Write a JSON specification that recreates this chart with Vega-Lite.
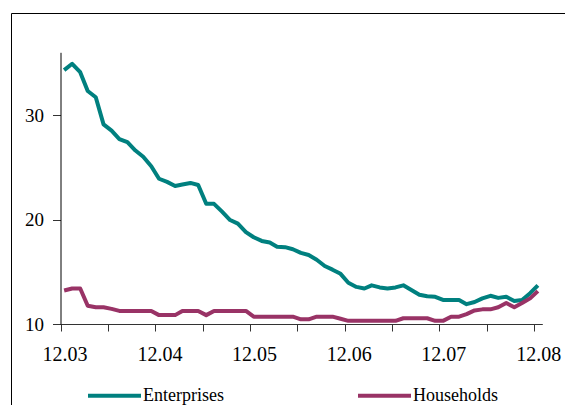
{
  "$schema": "https://vega.github.io/schema/vega-lite/v6.json",
  "autosize": "none",
  "width": 564,
  "height": 402,
  "padding": {"left": 11, "top": 13, "right": -10, "bottom": -10},
  "background": "white",
  "config": {
    "view": {"stroke": "#000", "strokeWidth": 1, "fill": "white"},
    "font": "Liberation Serif"
  },
  "data": {
    "values": [
      {"date": "2003-12-15", "sector": "Enterprises", "rate": 34.3},
      {"date": "2004-01-15", "sector": "Enterprises", "rate": 34.9},
      {"date": "2004-02-15", "sector": "Enterprises", "rate": 34.1},
      {"date": "2004-03-15", "sector": "Enterprises", "rate": 32.3},
      {"date": "2004-04-15", "sector": "Enterprises", "rate": 31.7},
      {"date": "2004-05-15", "sector": "Enterprises", "rate": 29.1},
      {"date": "2004-06-15", "sector": "Enterprises", "rate": 28.5},
      {"date": "2004-07-15", "sector": "Enterprises", "rate": 27.7},
      {"date": "2004-08-15", "sector": "Enterprises", "rate": 27.4},
      {"date": "2004-09-15", "sector": "Enterprises", "rate": 26.6},
      {"date": "2004-10-15", "sector": "Enterprises", "rate": 26.0},
      {"date": "2004-11-15", "sector": "Enterprises", "rate": 25.1},
      {"date": "2004-12-15", "sector": "Enterprises", "rate": 23.9},
      {"date": "2005-01-15", "sector": "Enterprises", "rate": 23.6},
      {"date": "2005-02-15", "sector": "Enterprises", "rate": 23.2},
      {"date": "2005-03-15", "sector": "Enterprises", "rate": 23.35},
      {"date": "2005-04-15", "sector": "Enterprises", "rate": 23.5},
      {"date": "2005-05-15", "sector": "Enterprises", "rate": 23.3},
      {"date": "2005-06-15", "sector": "Enterprises", "rate": 21.5},
      {"date": "2005-07-15", "sector": "Enterprises", "rate": 21.5},
      {"date": "2005-08-15", "sector": "Enterprises", "rate": 20.75},
      {"date": "2005-09-15", "sector": "Enterprises", "rate": 19.95},
      {"date": "2005-10-15", "sector": "Enterprises", "rate": 19.6},
      {"date": "2005-11-15", "sector": "Enterprises", "rate": 18.8},
      {"date": "2005-12-15", "sector": "Enterprises", "rate": 18.3},
      {"date": "2006-01-15", "sector": "Enterprises", "rate": 17.95},
      {"date": "2006-02-15", "sector": "Enterprises", "rate": 17.8},
      {"date": "2006-03-15", "sector": "Enterprises", "rate": 17.4},
      {"date": "2006-04-15", "sector": "Enterprises", "rate": 17.35},
      {"date": "2006-05-15", "sector": "Enterprises", "rate": 17.15},
      {"date": "2006-06-15", "sector": "Enterprises", "rate": 16.8},
      {"date": "2006-07-15", "sector": "Enterprises", "rate": 16.6},
      {"date": "2006-08-15", "sector": "Enterprises", "rate": 16.15},
      {"date": "2006-09-15", "sector": "Enterprises", "rate": 15.55},
      {"date": "2006-10-15", "sector": "Enterprises", "rate": 15.2},
      {"date": "2006-11-15", "sector": "Enterprises", "rate": 14.8},
      {"date": "2006-12-15", "sector": "Enterprises", "rate": 13.95},
      {"date": "2007-01-15", "sector": "Enterprises", "rate": 13.55},
      {"date": "2007-02-15", "sector": "Enterprises", "rate": 13.4},
      {"date": "2007-03-15", "sector": "Enterprises", "rate": 13.7},
      {"date": "2007-04-15", "sector": "Enterprises", "rate": 13.5},
      {"date": "2007-05-15", "sector": "Enterprises", "rate": 13.4},
      {"date": "2007-06-15", "sector": "Enterprises", "rate": 13.5},
      {"date": "2007-07-15", "sector": "Enterprises", "rate": 13.7},
      {"date": "2007-08-15", "sector": "Enterprises", "rate": 13.25},
      {"date": "2007-09-15", "sector": "Enterprises", "rate": 12.8},
      {"date": "2007-10-15", "sector": "Enterprises", "rate": 12.65},
      {"date": "2007-11-15", "sector": "Enterprises", "rate": 12.6},
      {"date": "2007-12-15", "sector": "Enterprises", "rate": 12.3},
      {"date": "2008-01-15", "sector": "Enterprises", "rate": 12.3},
      {"date": "2008-02-15", "sector": "Enterprises", "rate": 12.3},
      {"date": "2008-03-15", "sector": "Enterprises", "rate": 11.9},
      {"date": "2008-04-15", "sector": "Enterprises", "rate": 12.1},
      {"date": "2008-05-15", "sector": "Enterprises", "rate": 12.45},
      {"date": "2008-06-15", "sector": "Enterprises", "rate": 12.7},
      {"date": "2008-07-15", "sector": "Enterprises", "rate": 12.5},
      {"date": "2008-08-15", "sector": "Enterprises", "rate": 12.6},
      {"date": "2008-09-15", "sector": "Enterprises", "rate": 12.2},
      {"date": "2008-10-15", "sector": "Enterprises", "rate": 12.3},
      {"date": "2008-11-15", "sector": "Enterprises", "rate": 12.95},
      {"date": "2008-12-15", "sector": "Enterprises", "rate": 13.7},
      {"date": "2003-12-15", "sector": "Households", "rate": 13.2},
      {"date": "2004-01-15", "sector": "Households", "rate": 13.4},
      {"date": "2004-02-15", "sector": "Households", "rate": 13.4},
      {"date": "2004-03-15", "sector": "Households", "rate": 11.75},
      {"date": "2004-04-15", "sector": "Households", "rate": 11.6},
      {"date": "2004-05-15", "sector": "Households", "rate": 11.6},
      {"date": "2004-06-15", "sector": "Households", "rate": 11.45},
      {"date": "2004-07-15", "sector": "Households", "rate": 11.25},
      {"date": "2004-08-15", "sector": "Households", "rate": 11.25},
      {"date": "2004-09-15", "sector": "Households", "rate": 11.25},
      {"date": "2004-10-15", "sector": "Households", "rate": 11.25},
      {"date": "2004-11-15", "sector": "Households", "rate": 11.25},
      {"date": "2004-12-15", "sector": "Households", "rate": 10.85},
      {"date": "2005-01-15", "sector": "Households", "rate": 10.85},
      {"date": "2005-02-15", "sector": "Households", "rate": 10.85},
      {"date": "2005-03-15", "sector": "Households", "rate": 11.25},
      {"date": "2005-04-15", "sector": "Households", "rate": 11.25},
      {"date": "2005-05-15", "sector": "Households", "rate": 11.25},
      {"date": "2005-06-15", "sector": "Households", "rate": 10.85},
      {"date": "2005-07-15", "sector": "Households", "rate": 11.25},
      {"date": "2005-08-15", "sector": "Households", "rate": 11.25},
      {"date": "2005-09-15", "sector": "Households", "rate": 11.25},
      {"date": "2005-10-15", "sector": "Households", "rate": 11.25},
      {"date": "2005-11-15", "sector": "Households", "rate": 11.25},
      {"date": "2005-12-15", "sector": "Households", "rate": 10.7},
      {"date": "2006-01-15", "sector": "Households", "rate": 10.7},
      {"date": "2006-02-15", "sector": "Households", "rate": 10.7},
      {"date": "2006-03-15", "sector": "Households", "rate": 10.7},
      {"date": "2006-04-15", "sector": "Households", "rate": 10.7},
      {"date": "2006-05-15", "sector": "Households", "rate": 10.7},
      {"date": "2006-06-15", "sector": "Households", "rate": 10.45},
      {"date": "2006-07-15", "sector": "Households", "rate": 10.45},
      {"date": "2006-08-15", "sector": "Households", "rate": 10.7},
      {"date": "2006-09-15", "sector": "Households", "rate": 10.7},
      {"date": "2006-10-15", "sector": "Households", "rate": 10.7},
      {"date": "2006-11-15", "sector": "Households", "rate": 10.5},
      {"date": "2006-12-15", "sector": "Households", "rate": 10.3},
      {"date": "2007-01-15", "sector": "Households", "rate": 10.3},
      {"date": "2007-02-15", "sector": "Households", "rate": 10.3},
      {"date": "2007-03-15", "sector": "Households", "rate": 10.3},
      {"date": "2007-04-15", "sector": "Households", "rate": 10.3},
      {"date": "2007-05-15", "sector": "Households", "rate": 10.3},
      {"date": "2007-06-15", "sector": "Households", "rate": 10.3},
      {"date": "2007-07-15", "sector": "Households", "rate": 10.55},
      {"date": "2007-08-15", "sector": "Households", "rate": 10.55},
      {"date": "2007-09-15", "sector": "Households", "rate": 10.55},
      {"date": "2007-10-15", "sector": "Households", "rate": 10.55},
      {"date": "2007-11-15", "sector": "Households", "rate": 10.3},
      {"date": "2007-12-15", "sector": "Households", "rate": 10.3},
      {"date": "2008-01-15", "sector": "Households", "rate": 10.7},
      {"date": "2008-02-15", "sector": "Households", "rate": 10.7},
      {"date": "2008-03-15", "sector": "Households", "rate": 10.95},
      {"date": "2008-04-15", "sector": "Households", "rate": 11.3},
      {"date": "2008-05-15", "sector": "Households", "rate": 11.4},
      {"date": "2008-06-15", "sector": "Households", "rate": 11.4},
      {"date": "2008-07-15", "sector": "Households", "rate": 11.6},
      {"date": "2008-08-15", "sector": "Households", "rate": 12.0},
      {"date": "2008-09-15", "sector": "Households", "rate": 11.6},
      {"date": "2008-10-15", "sector": "Households", "rate": 12.0},
      {"date": "2008-11-15", "sector": "Households", "rate": 12.45},
      {"date": "2008-12-15", "sector": "Households", "rate": 13.15}
    ]
  },
  "mark": {"type": "line", "strokeWidth": 4, "strokeJoin": "round", "strokeCap": "butt"},
  "encoding": {
    "x": {
      "field": "date",
      "type": "temporal",
      "scale": {
        "type": "utc",
        "domain": [
          {"year": 2003, "month": 12, "date": 1, "utc": true},
          {"year": 2009, "month": 1, "date": 1, "utc": true}
        ],
        "range": [49.5, 531.3]
      },
      "axis": {
        "title": null,
        "offset": -91,
        "grid": false,
        "values": [
          {"year": 2003, "month": 12, "date": 1, "utc": true},
          {"year": 2004, "month": 6, "date": 1, "utc": true},
          {"year": 2004, "month": 12, "date": 1, "utc": true},
          {"year": 2005, "month": 6, "date": 1, "utc": true},
          {"year": 2005, "month": 12, "date": 1, "utc": true},
          {"year": 2006, "month": 6, "date": 1, "utc": true},
          {"year": 2006, "month": 12, "date": 1, "utc": true},
          {"year": 2007, "month": 6, "date": 1, "utc": true},
          {"year": 2007, "month": 12, "date": 1, "utc": true},
          {"year": 2008, "month": 6, "date": 1, "utc": true},
          {"year": 2008, "month": 12, "date": 1, "utc": true}
        ],
        "labelExpr": "utcFormat(datum.value, '%m') == '12' ? utcFormat(datum.value, '%m.%y') : ''",
        "labelFont": "Liberation Serif",
        "labelFontSize": 20,
        "labelColor": "#000",
        "labelPadding": 13,
        "labelOffset": 4,
        "labelFlush": false,
        "labelOverlap": false,
        "tickSize": 7,
        "tickColor": "#333",
        "domainColor": "#333",
        "tickWidth": 1,
        "domainWidth": 1
      }
    },
    "y": {
      "field": "rate",
      "type": "quantitative",
      "scale": {"domain": [10, 36], "range": [311, 39.3], "zero": false, "nice": false},
      "axis": {
        "title": null,
        "offset": -49.5,
        "grid": false,
        "values": [10, 20, 30],
        "labelFont": "Liberation Serif",
        "labelFontSize": 19,
        "labelColor": "#000",
        "labelPadding": 9,
        "tickSize": 8,
        "tickColor": "#333",
        "domainColor": "#000",
        "tickWidth": 1,
        "domainWidth": 1
      }
    },
    "color": {
      "field": "sector",
      "type": "nominal",
      "scale": {"domain": ["Enterprises", "Households"], "range": ["#00807f", "#993366"]},
      "legend": {
        "title": null,
        "orient": "none",
        "legendX": 75,
        "legendY": 354,
        "direction": "horizontal",
        "symbolType": "stroke",
        "symbolSize": 2809,
        "symbolStrokeWidth": 4,
        "labelFont": "Liberation Serif",
        "labelFontSize": 18,
        "labelColor": "#000",
        "labelOffset": 0,
        "columnPadding": 126,
        "padding": 0
      }
    }
  }
}
